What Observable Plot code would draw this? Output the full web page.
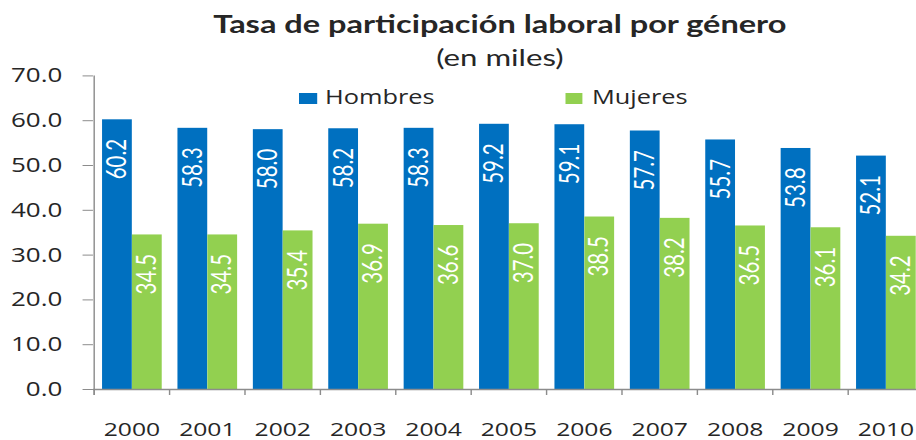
<!DOCTYPE html>
<html>
<head>
<meta charset="utf-8">
<script src="https://cdn.jsdelivr.net/npm/d3@7"></script>
<script src="https://cdn.jsdelivr.net/npm/@observablehq/plot@0.6"></script>
<style>
  html, body { margin: 0; padding: 0; background: #fff; overflow: hidden; }
  #wrap { position: relative; width: 705px; height: 440px; transform: scaleX(1.3); transform-origin: 0 0; }
  .title { position: absolute; left: 0; width: 769px; text-align: center; color: #262626; white-space: nowrap; }
  #t1 { top: 10.8px; font: 700 25px Lato; line-height: 25px; }
  #t2 { top: 44.9px; font: 400 24px Lato; line-height: 24px; }
  #chart { position: absolute; left: 0; top: 58px; }
  .sw { position: absolute; width: 13.5px; height: 10.7px; z-index: 2; }
  .lt { position: absolute; font: 400 19.5px "Open Sans"; line-height: 19.5px; color: #262626; z-index: 2; white-space: nowrap; }
</style>
</head>
<body>
<div id="wrap">
  <div class="title" id="t1">Tasa de participación laboral por género</div>
  <div class="title" id="t2">(en miles)</div>
  <div id="chart"></div>
  <div id="legend"></div>
</div>
<script>
const years = ["2000","2001","2002","2003","2004","2005","2006","2007","2008","2009","2010"];
const hombres = [60.2, 58.3, 58.0, 58.2, 58.3, 59.2, 59.1, 57.7, 55.7, 53.8, 52.1];
const mujeres = [34.5, 34.5, 35.4, 36.9, 36.6, 37.0, 38.5, 38.2, 36.5, 36.1, 34.2];
const seriesNames = ["Hombres", "Mujeres"];
const seriesColors = ["#0070C0", "#92D050"];
const yTicks = [0, 10, 20, 30, 40, 50, 60, 70];

const rows = years.map((year, i) => ({year, h: hombres[i], m: mujeres[i]}));

const W = 705, H = 382;
const x0 = 71.5, x1 = 710.6;
const step = (x1 - x0) / years.length;
const axisColor = "#8c8c8c";
const textColor = "#262626";
const yDomain = [0, 70];
const mt = 17.4, mb = 51;
const pxPerUnit = (H - mt - mb) / (yDomain[1] - yDomain[0]);
const tickDown = -6 / pxPerUnit;

const chart = Plot.plot({
  width: W,
  height: H,
  marginTop: mt,
  marginBottom: mb,
  marginLeft: x0,
  marginRight: 0,
  style: {background: "transparent", overflow: "visible", color: textColor},
  x: {type: "band", domain: years, range: [x0, x1], padding: 0},
  y: {domain: yDomain},
  marks: [
    Plot.barY(rows, {x: "year", y: "h", fill: seriesColors[0], insetLeft: 6.5, insetRight: 28.6}),
    Plot.barY(rows, {x: "year", y: "m", fill: seriesColors[1], insetLeft: 29.5, insetRight: 5.6}),
    Plot.text(rows, {x: "year", y: "h", text: d => d.h.toFixed(1), rotate: -90, textAnchor: "end", lineAnchor: "middle",
      dx: -10.9, dy: 19, fill: "white", fontSize: 20.5, fontFamily: "Lato"}),
    Plot.text(rows, {x: "year", y: "m", text: d => d.m.toFixed(1), rotate: -90, textAnchor: "end", lineAnchor: "middle",
      dx: 12, dy: 19, fill: "white", fontSize: 20.5, fontFamily: "Lato"}),
    Plot.ruleY([0], {stroke: axisColor, strokeWidth: 1.3}),
    Plot.ruleX([years[0]], {x: d => d, dx: -step / 2, y1: tickDown, y2: yDomain[1], stroke: axisColor, strokeWidth: 1.1}),
    Plot.ruleX(years, {x: d => d, dx: -step / 2, y1: 0, y2: tickDown, stroke: axisColor, strokeWidth: 1.1}),
    Plot.axisY({ticks: yTicks, tickFormat: d => d.toFixed(1), tickSize: 8, tickPadding: 16, fontSize: 20,
      fontFamily: "Open Sans", stroke: axisColor, fill: textColor, label: null}),
    Plot.axisX({tickSize: 0, tickPadding: 33, fontSize: 19, fontFamily: "Open Sans", fill: textColor, label: null})
  ]
});
document.getElementById("chart").appendChild(chart);

// legend
const legend = document.getElementById("legend");
const legendPos = [{sw: 230, tx: 250}, {sw: 434.6, tx: 455.4}];
seriesNames.forEach((name, i) => {
  const sw = document.createElement("div");
  sw.className = "sw";
  sw.style.left = legendPos[i].sw + "px";
  sw.style.top = "93px";
  sw.style.background = seriesColors[i];
  legend.appendChild(sw);
  const t = document.createElement("div");
  t.className = "lt";
  t.style.left = legendPos[i].tx + "px";
  t.style.top = "87px";
  t.textContent = name;
  legend.appendChild(t);
});
</script>
</body>
</html>
